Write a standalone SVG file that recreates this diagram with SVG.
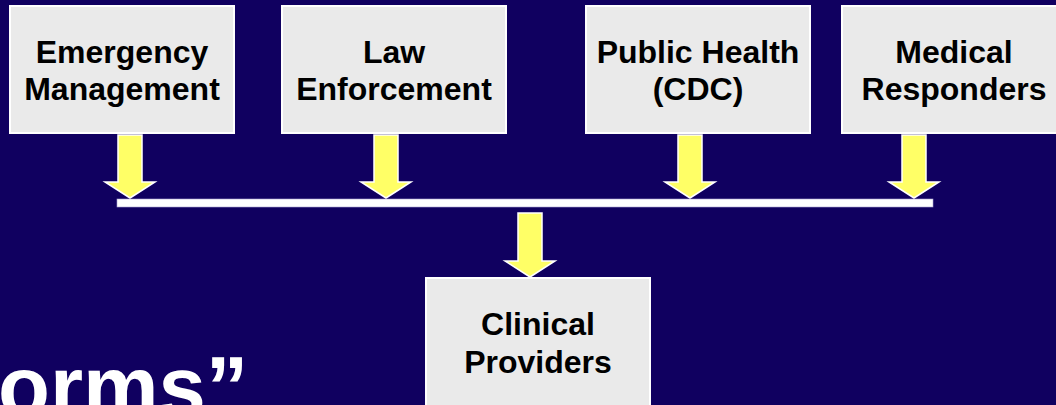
<svg xmlns="http://www.w3.org/2000/svg" width="1056" height="405" viewBox="0 0 1056 405">
  <style>
    .box { fill: #EAEAEA; stroke: #FFFFFF; stroke-width: 2; }
    .label { font-family: "Liberation Sans", Arial, sans-serif; font-weight: bold; font-size: 32px; fill: #000000; text-anchor: middle; }
    .arrow { fill: #FFFF66; stroke: #FFFFFF; stroke-width: 1.5; stroke-linejoin: miter; }
    .title { font-family: "Liberation Sans", Arial, sans-serif; font-weight: bold; font-size: 85px; fill: #FFFFFF; }
  </style>
  <defs>
    <!-- block arrow pointing down, tip at origin, shaft 24 wide, head 50 wide and 16 tall -->
    <path id="blockArrow" d="M -12 -63 L 12 -63 L 12 -16 L 25 -16 L 0 0 L -25 -16 L -12 -16 Z"/>
    <path id="blockArrowShort" d="M -12 -64 L 12 -64 L 12 -16 L 25 -16 L 0 0 L -25 -16 L -12 -16 Z"/>
  </defs>

  <!-- slide background -->
  <rect x="0" y="0" width="1056" height="405" fill="#100060"/>

  <!-- partially visible slide title -->
  <text class="title" x="-2" y="416">orms”</text>

  <!-- connectors: arrows into the collection bar, bar, arrow down to providers -->
  <g id="connectors">
    <use href="#blockArrow" class="arrow" x="130" y="198"/>
    <use href="#blockArrow" class="arrow" x="386" y="198"/>
    <use href="#blockArrow" class="arrow" x="690" y="198"/>
    <use href="#blockArrow" class="arrow" x="914" y="198"/>
    <rect x="117" y="199" width="816" height="8" fill="#FFFFFF" stroke="#A8A2D2" stroke-width="0.6"/>
    <use href="#blockArrowShort" class="arrow" x="530" y="277"/>
  </g>

  <g id="emergency-management">
    <rect class="box" x="10" y="6" width="224" height="127"/>
    <text class="label" x="122" y="63">Emergency</text>
    <text class="label" x="122" y="100">Management</text>
  </g>

  <g id="law-enforcement">
    <rect class="box" x="282" y="6" width="224" height="127"/>
    <text class="label" x="394" y="63">Law</text>
    <text class="label" x="394" y="100">Enforcement</text>
  </g>

  <g id="public-health">
    <rect class="box" x="586" y="6" width="224" height="127"/>
    <text class="label" x="698" y="63">Public Health</text>
    <text class="label" x="698" y="100">(CDC)</text>
  </g>

  <g id="medical-responders">
    <rect class="box" x="842" y="6" width="224" height="127"/>
    <text class="label" x="954" y="63">Medical</text>
    <text class="label" x="954" y="100">Responders</text>
  </g>

  <g id="clinical-providers">
    <rect class="box" x="426" y="278" width="224" height="150"/>
    <text class="label" x="538" y="335">Clinical</text>
    <text class="label" x="538" y="372.5">Providers</text>
  </g>
</svg>
